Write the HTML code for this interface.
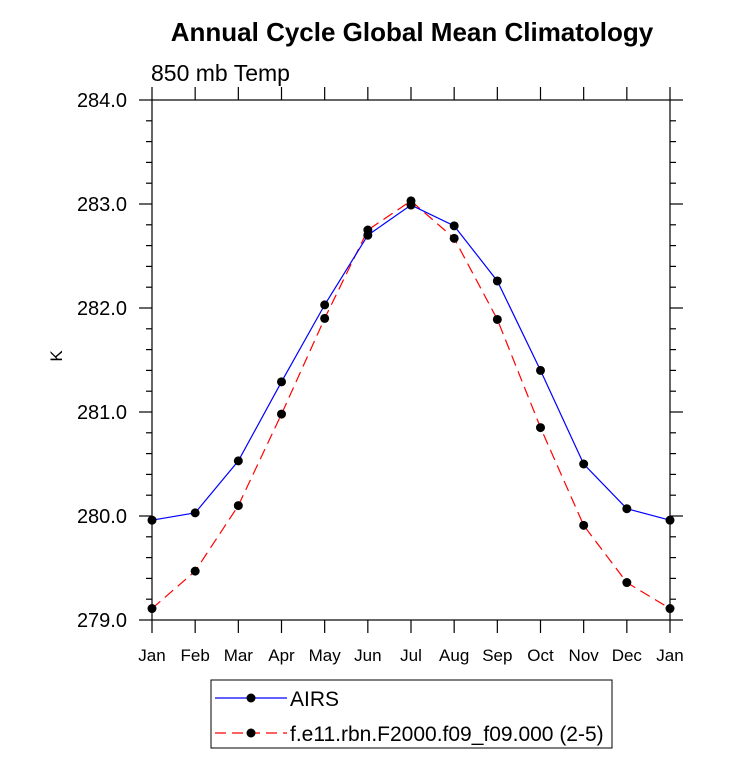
<!DOCTYPE html>
<html><head><meta charset="utf-8"><style>
body{margin:0;background:#fff;}
svg text{font-family:"Liberation Sans",sans-serif;}
</style></head><body>
<svg id="chart" width="733" height="770" xmlns="http://www.w3.org/2000/svg">
<text x="412" y="41" text-anchor="middle" font-size="26" font-weight="bold">Annual Cycle Global Mean Climatology</text>
<text x="151" y="81" font-size="23">850 mb Temp</text>
<text x="62" y="356" font-size="17" text-anchor="middle" transform="rotate(-90 62 356)">K</text>
<g id="axes"></g>
<g id="marks"></g>
<g>
<rect x="211" y="680" width="401" height="68" fill="#fff" stroke="#000" stroke-width="1"/>
<line x1="215" y1="698" x2="287" y2="698" stroke="#0000ff" stroke-width="1.2"/>
<circle cx="251" cy="698" r="4.5" fill="#000"/>
<text x="290" y="706" font-size="21">AIRS</text>
<line x1="215" y1="733" x2="287" y2="733" stroke="#ff0000" stroke-width="1.2" stroke-dasharray="11,6"/>
<circle cx="251" cy="733" r="4.5" fill="#000"/>
<text x="290" y="741" font-size="21">f.e11.rbn.F2000.f09_f09.000 (2-5)</text>
</g>
</svg>
<script>
const months = ["Jan","Feb","Mar","Apr","May","Jun","Jul","Aug","Sep","Oct","Nov","Dec","Jan"];
const airs = [279.96,280.03,280.53,281.29,282.03,282.70,282.99,282.79,282.26,281.40,280.50,280.07,279.96];
const model = [279.11,279.47,280.10,280.98,281.90,282.75,283.03,282.67,281.89,280.85,279.91,279.36,279.11];
const yTicks = ["279.0","280.0","281.0","282.0","283.0","284.0"];
const NS="http://www.w3.org/2000/svg";
const L=152,R=670,T=100,B=620,ymin=279,ymax=284;
const xs=i=>L+i*(R-L)/12;
const ys=v=>B-(v-ymin)/(ymax-ymin)*(B-T);
function mk(tag,attrs,parent){const e=document.createElementNS(NS,tag);for(const k in attrs)e.setAttribute(k,attrs[k]);parent.appendChild(e);return e;}
const ax=document.getElementById('axes');
const frame=mk('rect',{x:L,y:T,width:R-L,height:B-T,fill:'none',stroke:'#000','stroke-width':1.2},ax);


months.forEach((m,i)=>{const x=xs(i);
 mk('line',{x1:x,y1:B,x2:x,y2:B+13,stroke:'#000','stroke-width':1.2},ax);
 mk('line',{x1:x,y1:T,x2:x,y2:T-13,stroke:'#000','stroke-width':1.2},ax);
 const t=mk('text',{x:x,y:B+41,'text-anchor':'middle','font-size':17},ax);t.textContent=m;
 
 
});
for(let v=ymin;v<=ymax+1e-6;v+=0.2){const y=ys(v);const major=Math.abs(v-Math.round(v))<1e-6;const len=major?13:6;
 mk('line',{x1:L,y1:y,x2:L-len,y2:y,stroke:'#000','stroke-width':1.2},ax);
 mk('line',{x1:R,y1:y,x2:R+len,y2:y,stroke:'#000','stroke-width':1.2},ax);}
yTicks.forEach(s=>{const t=mk('text',{x:L-25,y:ys(parseFloat(s))+7,'text-anchor':'end','font-size':20},ax);t.textContent=s;
 
 });
const mg=document.getElementById('marks');
function series(vals,color,dash,name){
 const p=mk('polyline',{points:vals.map((v,i)=>xs(i)+','+ys(v)).join(' '),fill:'none',stroke:color,'stroke-width':1.2},mg);
 if(dash)p.setAttribute('stroke-dasharray','11,6');
 
 
 vals.forEach((v,i)=>{const c=mk('circle',{cx:xs(i),cy:ys(v),r:4.5,fill:'#000'},mg);
  
  });
}
series(model,'#ff0000',true,'model');
series(airs,'#0000ff',false,'airs');
</script>
</body></html>
